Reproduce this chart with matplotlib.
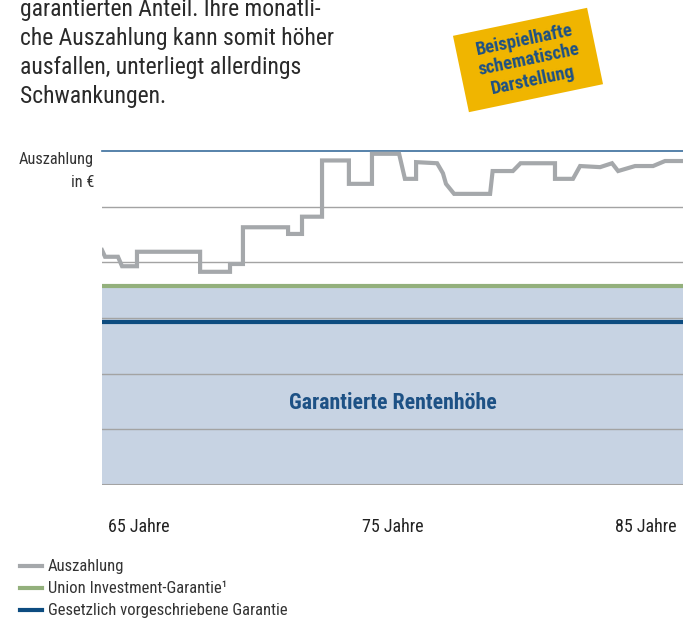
import matplotlib
matplotlib.use("Agg")
import matplotlib.pyplot as plt
from matplotlib.patches import Rectangle
from matplotlib.lines import Line2D
import matplotlib.transforms as mtransforms

plt.rcParams['font.family'] = ['Roboto Condensed', 'DejaVu Sans']

# ---- data ----
age = [63.54, 63.66, 64.17, 64.33, 64.92, 64.92, 67.41, 67.41, 68.59, 68.59, 69.10, 69.10,
       70.88, 70.88, 71.43, 71.43, 72.22, 72.22, 73.28, 73.28, 74.19, 74.19, 75.26, 75.49,
       75.93, 75.93, 76.76, 76.99, 77.11, 77.43, 78.85, 78.95, 79.75, 80.05, 81.41, 81.41,
       82.12, 82.40, 83.19, 83.66, 83.90, 84.57, 85.28, 85.75, 86.46]
payout = [4.22, 4.10, 4.10, 3.93, 3.93, 4.19, 4.19, 3.83, 3.83, 3.97, 3.97, 4.63,
          4.63, 4.51, 4.51, 4.82, 4.82, 5.83, 5.83, 5.41, 5.41, 5.95, 5.95, 5.50,
          5.50, 5.80, 5.78, 5.60, 5.41, 5.23, 5.23, 5.64, 5.64, 5.78, 5.78, 5.50,
          5.50, 5.73, 5.71, 5.78, 5.64, 5.73, 5.73, 5.82, 5.82]
union_guarantee = 3.57
legal_guarantee = 2.93
grid_levels = [1, 2, 3, 4, 5]
x_ticks = [65, 75, 85]
x_labels = ["65 Jahre", "75 Jahre", "85 Jahre"]
legend_labels = ["Auszahlung", "Union Investment-Garantie\u00b9", "Gesetzlich vorgeschriebene Garantie"]
intro_lines = ["garantierten Anteil. Ihre monatli-",
               "che Auszahlung kann somit höher",
               "ausfallen, unterliegt allerdings",
               "Schwankungen."]

C_GRAY = "#a5a8ab"
C_GREEN = "#93b07c"
C_BLUE = "#0d4c80"
C_FILL = "#c7d3e3"
C_TEXTBLUE = "#1d5185"

W, H = 683, 622
fig = plt.figure(figsize=(W / 100, H / 100), dpi=100)
fig.canvas.draw()
R = fig.canvas.get_renderer()


def fit(t, target_w):
    w = t.get_window_extent(R).width
    t.set_fontsize(t.get_fontsize() * target_w / w)
    return t


def px(x, y):
    return x / W, 1 - y / H


ax = fig.add_axes([102 / W, 137 / H, 581 / W, 334 / H])
ax.set_xlim(63.54, 86.46)
ax.set_ylim(0, 6)

ax.fill_between([63.54, 86.46], 0, union_guarantee, color=C_FILL, lw=0, zorder=1)
for g in grid_levels:
    ax.axhline(g, color="#a3a3a3", lw=1.0, zorder=2)
ax.axhline(0, color="#a3a3a3", lw=1.5, zorder=2)
ax.axhline(6, color="#3a6d9c", lw=1.2, zorder=2, clip_on=False)
ax.axhline(union_guarantee, color=C_GREEN, lw=3.0, zorder=3)
ax.axhline(legal_guarantee, color=C_BLUE, lw=3.0, zorder=3)
ax.plot(age, payout, color=C_GRAY, lw=3.0, zorder=4, solid_joinstyle="miter")

for s in ax.spines.values():
    s.set_visible(False)
ax.set_yticks([])
ax.set_xticks(x_ticks)
ax.set_xticklabels(x_labels, fontsize=13, color="#222222")
ax.tick_params(axis="x", length=0, pad=24)

# centre label
t = fig.text(*px(392.5, 409), "Garantierte Rentenhöhe", ha="center", va="baseline",
             fontsize=14, fontweight="bold", color=C_TEXTBLUE)
fit(t, 209)

# y label
t1 = fig.text(*px(94, 164), "Auszahlung", ha="right", va="baseline", fontsize=12, color="#333333")
fit(t1, 75)
fig.text(*px(94, 187), "in €", ha="right", va="baseline", fontsize=t1.get_fontsize(), color="#333333")

# intro text
t0 = fig.text(*px(20, 45), intro_lines[1], ha="left", va="baseline", fontsize=17, color="#2a2a2a")
fit(t0, 315)
fs_intro = t0.get_fontsize()
t0.remove()
for i, line in enumerate(intro_lines):
    fig.text(*px(20, 16 + 29 * i), line, ha="left", va="baseline",
             fontsize=fs_intro, color="#2a2a2a")

# badge
cx, cy = 528, H - 60
rect = Rectangle((cx - 68.5, cy - 39), 137, 78, color="#f0b500", lw=0,
                 transform=mtransforms.Affine2D().rotate_deg_around(cx, cy, 11.8))
fig.patches.append(rect)
tb = fig.text(529 / W, 1 - 60 / H, "Beispielhafte\nschematische\nDarstellung", ha="center", va="center",
              rotation=0, rotation_mode="anchor", fontsize=12, fontweight="bold",
              color=C_TEXTBLUE, linespacing=1.2, multialignment="center")
fit(tb, 104)
tb.set_rotation(11.8)

# legend
t2 = None
for i, (lab, col) in enumerate(zip(legend_labels, [C_GRAY, C_GREEN, C_BLUE])):
    yy = 566 + 22 * i
    fig.add_artist(Line2D([20 / W, 42 / W], [1 - yy / H] * 2, color=col, lw=3.0,
                          transform=fig.transFigure))
    tt = fig.text(*px(48, yy + 5), lab, ha="left", va="baseline", fontsize=11, color="#333333")
    if i == 2:
        t2 = tt
s = 239 / t2.get_window_extent(R).width
for tt in fig.texts[-3:]:
    tt.set_fontsize(tt.get_fontsize() * s)

fig.savefig("out.png", dpi=100)
